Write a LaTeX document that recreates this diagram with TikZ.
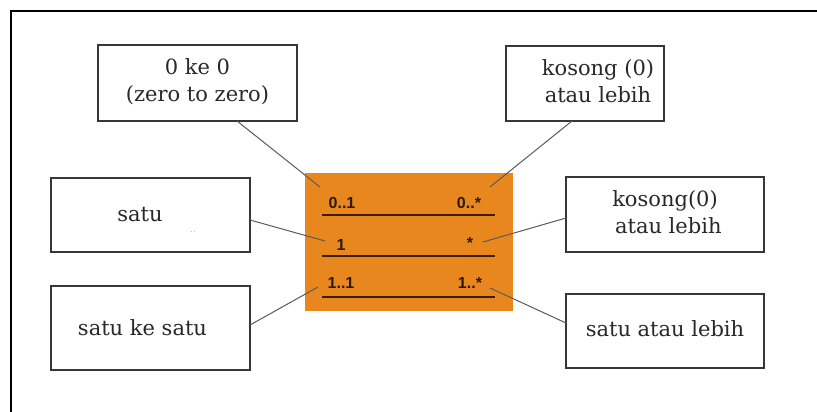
\documentclass[tikz,border=0pt]{standalone}
\usepackage{fontspec}
\newfontfamily\multfamily{Liberation Sans}
\newfontfamily\notefamily{DejaVu Serif}
\definecolor{boxgray}{RGB}{55,55,55}
\definecolor{linkgray}{RGB}{90,90,90}
\definecolor{multorange}{RGB}{232,135,30}
\definecolor{multtext}{RGB}{45,25,10}
\definecolor{rulebrown}{RGB}{60,30,12}
\definecolor{notetext}{RGB}{40,40,40}
\newcommand\notefont{\notefamily\fontsize{21}{27}\selectfont}
\newcommand\twolines[2]{\begin{tabular}{@{}c@{}}#1\\#2\end{tabular}}
\begin{document}
\begin{tikzpicture}[x=1pt,y=-1pt,
  every node/.style={inner sep=0pt, outer sep=0pt},
  note/.style={draw=boxgray, line width=2pt, fill=white, font=\notefont, text=notetext},
  mult/.style={font=\multfamily\bfseries\fontsize{16}{18}\selectfont, text=multtext},
  link/.style={draw=linkgray, line width=1pt},
  sepline/.style={draw=rulebrown, line width=2.5pt}]
\useasboundingbox (0,0) rectangle (817,412);

% open frame: top and left edges only
\draw[line width=2pt] (11,412) -- (11,11) -- (817,11);

% multiplicity panel
\node[fill=multorange, minimum width=208pt, minimum height=138pt] (panel) at (409,242) {};
\draw[sepline] (322,215) -- (495,215);
\draw[sepline] (322,256) -- (495,256);
\draw[sepline] (322,297) -- (495,297);

\node[mult] (m01) at (342,203) {0..1};
\node[mult] (m0n) at (469,203) {0..*};
\node[mult] (m1)  at (341,245) {1};
\node[mult] (mn)  at (470,243) {*};
\node[mult] (m11) at (341,283) {1..1};
\node[mult] (m1n) at (470,283) {1..*};

% explanation boxes
\node[note, minimum width=199pt, minimum height=76pt] (zz) at (197.5,83)
  {\twolines{0 ke 0}{(zero to zero)}};
\node[note, minimum width=158pt, minimum height=75pt] (zm) at (585,83.5)
  {\hspace*{26pt}\twolines{kosong (0)}{atau lebih}};
\node[note, minimum width=199pt, minimum height=74pt] (one) at (150.5,215)
  {satu\hspace*{21pt}};
\node[note, minimum width=198pt, minimum height=75pt] (many) at (665,214.5)
  {\twolines{kosong(0)}{\ atau lebih}};
\node[note, minimum width=199pt, minimum height=84pt] (oneone) at (150.5,328)
  {\raisebox{1pt}{satu ke satu}\hspace*{16pt}};
\node[note, minimum width=198pt, minimum height=74pt] (onemany) at (665,331)
  {\raisebox{4pt}{satu atau lebih}};

% faint marks inside the "satu" box
\node[text=black!30, font=\fontsize{10}{10}\selectfont] (dots) at (193,232) {..};

% connector ends on the panel
\coordinate (e01) at (320,187);
\coordinate (e0n) at (490,187);
\coordinate (e1)  at (325,241);
\coordinate (en)  at (483,242);
\coordinate (e11) at (318,287);
\coordinate (e1n) at (490,288);

\draw[link] ([xshift=39.5pt]zz.south) -- (e01);
\draw[link] ([xshift=-13pt]zm.south) -- (e0n);
\draw[link] ([yshift=-5pt]one.east) -- (e1);
\draw[link] ([yshift=-3.5pt]many.west) -- (en);
\draw[link] ([yshift=3pt]oneone.east) -- (e11);
\draw[link] ([yshift=8pt]onemany.west) -- (e1n);
\end{tikzpicture}
\end{document}
